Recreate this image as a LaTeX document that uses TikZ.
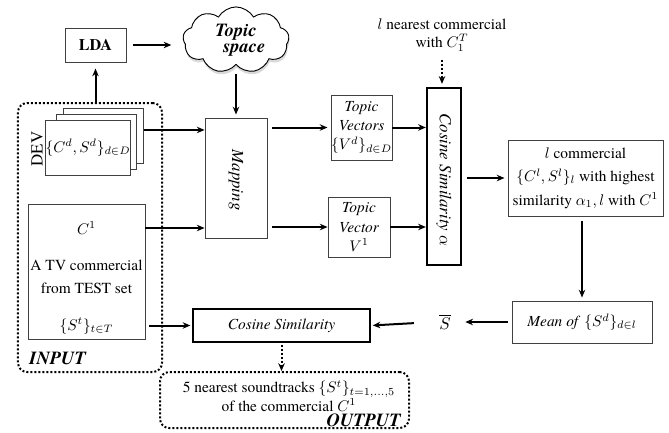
\documentclass[tikz,border=0pt]{standalone}
\usepackage{fontspec}
\setmainfont{texgyretermes}[Extension=.otf, UprightFont=*-regular, BoldFont=*-bold, ItalicFont=*-italic, BoldItalicFont=*-bolditalic]
\usetikzlibrary{shapes.symbols,arrows.meta,shadows}
\begin{document}
\begin{tikzpicture}[x=0.65pt,y=-0.65pt,
  box/.style={draw=black!75, line width=0.6pt, fill=white, inner sep=0pt},
  thickbox/.style={draw, line width=1.5pt, fill=white, inner sep=0pt},
  arr/.style={line width=1.3pt, -{Stealth[length=5pt,width=4.2pt]}},
  dotarr/.style={line width=1.3pt, dash pattern=on 1.3pt off 1.3pt, -{Stealth[length=5pt,width=4.2pt]}},
  dotbox/.style={draw, line width=1.3pt, dash pattern=on 1.3pt off 1.3pt, rounded corners=6pt, inner sep=0pt},
  bi/.style={font=\bfseries\itshape\fontsize{12}{12}\selectfont}]
\useasboundingbox (0,0) rectangle (669,432);

% top
\node[box, minimum width=39.7pt, minimum height=22.1pt, font=\bfseries\fontsize{10.5}{11}\selectfont] (lda) at (95.5,45) {LDA};
\node[cloud, cloud puffs=9, cloud puff arc=120, aspect=1.6, draw, line width=0.6pt, fill=white,
  minimum width=69pt, minimum height=43pt, inner sep=0pt,
  drop shadow={opacity=0.3, shadow xshift=0.5pt, shadow yshift=-2pt},
  font=\bfseries\itshape\fontsize{12}{10.5}\selectfont, align=center] (topic) at (236,40) {Topic\\\hspace*{0.9em}space};

% containers
\node[dotbox, minimum width=93.6pt, minimum height=174.85pt] (input) at (90,237.5) {};
\node[dotbox, minimum width=161.85pt, minimum height=36.4pt] (output) at (284.5,400) {};

% DEV stack
\node[box, minimum width=52pt, minimum height=35.75pt] (back) at (103.5,135.5) {};
\node[box, minimum width=52pt, minimum height=35.75pt] (mid) at (96,141.5) {};
\node[box, minimum width=52pt, minimum height=35.75pt] (front) at (88,147.5) {$\{C^d,S^d\}_{d\in D}$};
\node[rotate=90, font=\fontsize{11}{11}\selectfont] (dev) at (37,149) {DEV};

% C1 box
\node[box, minimum width=76pt, minimum height=87.75pt] (c1box) at (86.5,271.5) {};
\node (c1sym) at (86.5,228) {$C^1$};
\node (c1a) at (86.5,265) {A TV commercial};
\node (c1b) at (86.5,288) {from TEST set};
\node (c1st) at (86.5,326) {$\{S^t\}_{t\in T}$};
\node[bi, anchor=west] (inlab) at (24,358) {INPUT};

% mapping
\node[box, minimum width=40.3pt, minimum height=78pt] (map) at (236,178) {};
\node[rotate=-90, font=\itshape\fontsize{11}{11}\selectfont] (maptxt) at (236,180) {Mapping};

% topic vectors
\node[box, minimum width=39.65pt, minimum height=42.25pt, align=center, font=\itshape\fontsize{10}{12.5}\selectfont] (tvs) at (361.5,127.5) {Topic\\Vectors\\$\{V^d\}_{d\in D}$};
\node[box, minimum width=40.3pt, minimum height=39pt, align=center, font=\itshape\fontsize{10}{12.5}\selectfont] (tv1) at (359,227) {Topic\\Vector\\$V^1$};

% cosine alpha
\node[thickbox, minimum width=22.1pt, minimum height=115pt] (cosa) at (444,176.5) {};
\node[rotate=-90, font=\itshape\fontsize{11}{11}\selectfont] (cosatxt) at (444,180) {Cosine Similarity $\alpha$};
\node[align=center, font=\fontsize{10}{11.5}\selectfont] (toplab) at (442,35) {$l$ nearest commercial\\with $C_1^T$};

% right column
\node[box, minimum width=100.75pt, minimum height=49.4pt, align=center, font=\fontsize{10}{15.2}\selectfont] (lcomm) at (585.5,178) {$l$ commercial\\$\{C^l,S^l\}_l$ with highest\\similarity $\alpha_1,l$ with $C^1$};
\node[box, minimum width=91pt, minimum height=27.3pt] (mean) at (582,322) {\textit{Mean of} $\{S^d\}_{d\in l}$};
\node[font=\fontsize{11}{11}\selectfont] (sbar) at (445,322) {$\overline{S}$};

% bottom cosine
\node[thickbox, minimum width=115pt, minimum height=21.45pt, font=\itshape] (cos2) at (281.5,325.5) {Cosine Similarity};

% output text
\node[align=center, font=\fontsize{10}{10.5}\selectfont] (outtxt) at (289,396) {5 nearest soundtracks $\{S^t\}_{t=1,\ldots,5}$\\of the commercial $C^1$};
\node[bi, anchor=east] (outlab) at (406,420) {OUTPUT};

% connectors
\draw[arr, shorten >=4pt] (input.north -| lda) -- (lda.south);
\draw[arr, shorten <=4.5pt, shorten >=7.5pt] (lda.east) -- (lda.east -| topic.west);
\draw[arr, shorten <=6pt, shorten >=2pt] (topic.south) -- (topic.south |- map.north);
\draw[arr] ([yshift=3.6pt]back.east) -- ([yshift=3.6pt]map.west |- back.east);
\draw[arr] (c1box.east |- c1sym) -- (map.west |- c1sym);
\draw[arr, shorten <=3pt, shorten >=2pt] (map.east |- tvs) -- (tvs.west);
\draw[arr, shorten <=3pt] (map.east |- tv1) -- (tv1.west);
\draw[arr] (tvs.east) -- (cosa.west |- tvs.east);
\draw[arr] (tv1.east) -- (cosa.west |- tv1.east);
\draw[dotarr, shorten <=2pt, shorten >=2pt] (toplab.south) -- (toplab.south |- cosa.north);
\draw[arr, shorten <=3pt, shorten >=2pt] (cosa.east |- lcomm) -- (lcomm.west);
\draw[arr, shorten <=3pt, shorten >=2pt] (lcomm.south -| mean) -- (mean.north);
\draw[arr, shorten <=2pt, shorten >=6pt] (mean.west) -- (sbar.east);
\draw[arr, shorten <=13pt, shorten >=1pt] (sbar.west) -- (cos2.east);
\draw[arr, shorten <=2.5pt, shorten >=1pt] (c1box.east |- cos2) -- (cos2.west);
\draw[dotarr, shorten <=1pt, shorten >=0pt] (cos2.south) -- (cos2.south |- output.north);
\end{tikzpicture}
\end{document}
